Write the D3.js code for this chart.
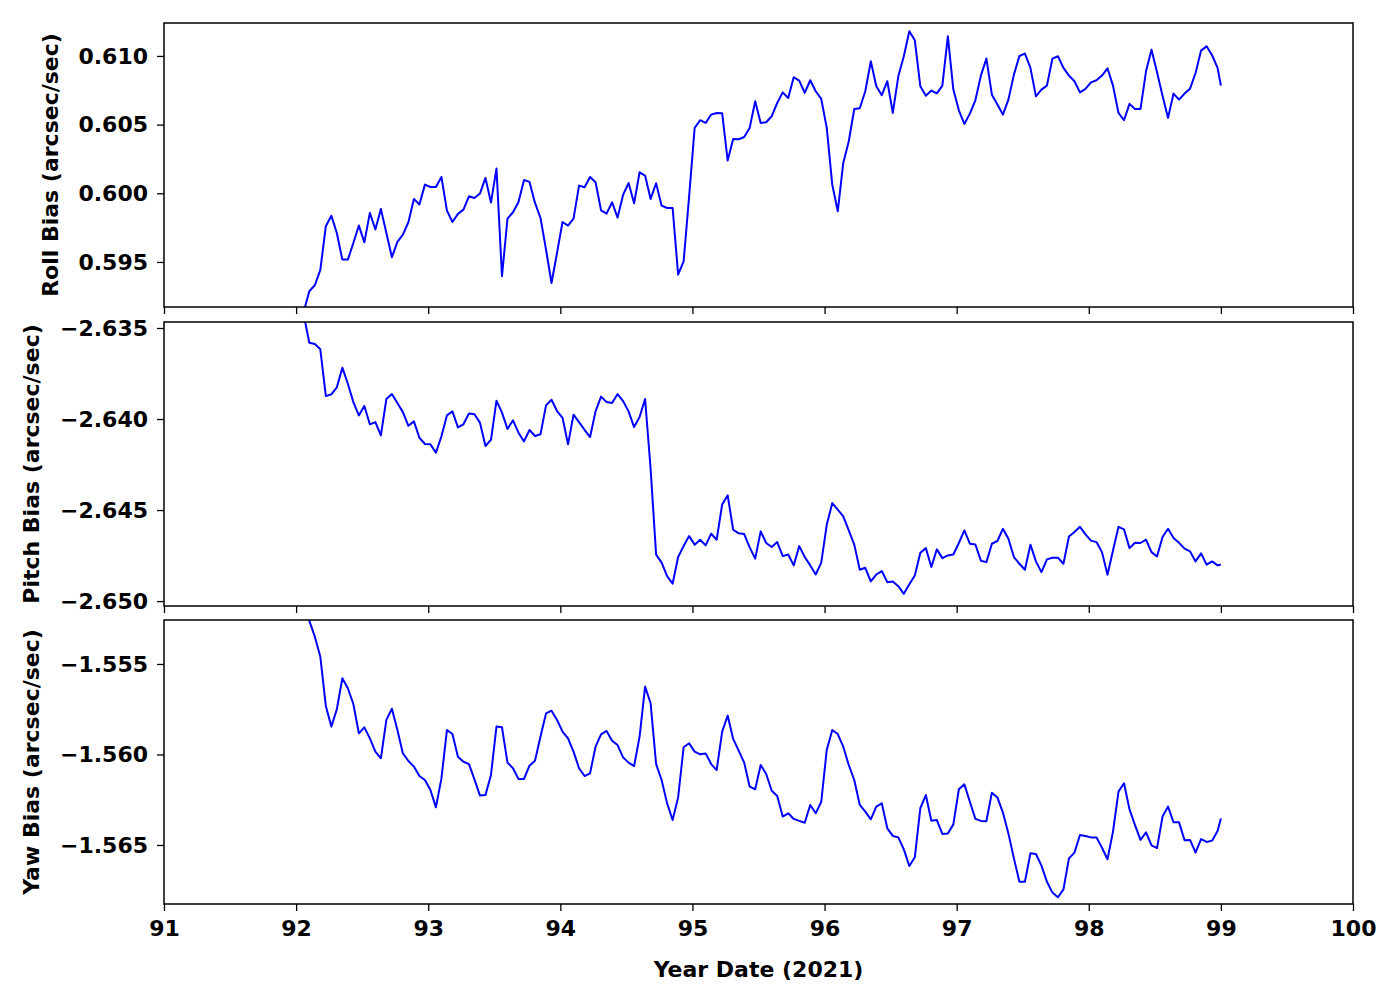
<!DOCTYPE html>
<html>
<head>
<meta charset="utf-8">
<script src="https://cdn.jsdelivr.net/npm/d3@7"></script>
<style>
  html, body { margin: 0; padding: 0; background: #ffffff; }
  svg text { font-family: "DejaVu Sans", sans-serif; font-weight: bold; }
</style>
</head>
<body>
<svg id="chart" width="1400" height="1000"></svg>
<script>
// ---- data (hourly samples, Year Date 2021) ----
const dayStart = 92.0583;      // first sample
const dayStep = 1 / 24;        // hourly sampling
const dayEnd = 99.0;           // last sample

const rollBias = [
0.5914,
0.59287,0.59330,0.59442,0.59760,0.59837,0.59711,0.59517,0.59517,0.59638,0.59765,
0.59643,0.59857,0.59736,0.59886,0.59711,0.59534,0.59646,0.59699,0.59789,0.59959,
0.59918,0.60063,0.60046,0.60046,0.60119,0.59874,0.59791,0.59850,0.59881,0.59978,
0.59966,0.59998,0.60112,0.59932,0.60180,0.59396,0.59816,0.59862,0.59937,0.60097,
0.60083,0.59930,0.59820,0.59590,0.59347,0.59566,0.59791,0.59765,0.59816,0.60056,
0.60044,0.60119,0.60080,0.59876,0.59852,0.59935,0.59823,0.59988,0.60075,0.59927,
0.60153,0.60129,0.59959,0.60073,0.59910,0.59893,0.59893,0.59408,0.59505,0.59978,
0.60476,0.60532,0.60512,0.60573,0.60585,0.60583,0.60238,0.60396,0.60393,0.60410,
0.60476,0.60670,0.60512,0.60517,0.60561,0.60658,0.60735,0.60694,0.60845,0.60820,
0.60731,0.60823,0.60743,0.60687,0.60476,0.60063,0.59869,0.60221,0.60379,0.60614,
0.60619,0.60743,0.60961,0.60779,0.60714,0.60816,0.60585,0.60852,0.60998,0.61180,
0.61114,0.60779,0.60711,0.60748,0.60728,0.60784,0.61143,0.60755,0.60604,0.60505,
0.60580,0.60677,0.60857,0.60981,0.60718,0.60646,0.60573,0.60682,0.60864,0.61000,
0.61017,0.60913,0.60706,0.60755,0.60784,0.60981,0.60998,0.60913,0.60857,0.60816,
0.60735,0.60760,0.60808,0.60823,0.60857,0.60910,0.60784,0.60585,0.60532,0.60651,
0.60614,0.60614,0.60888,0.61046,0.60881,0.60711,0.60549,0.60726,0.60682,0.60726,
0.60762,0.60876,0.61039,0.61070,0.61005,0.60913,
0.60784
];

const pitchBias = [
-2.6343,
-2.63581,-2.63588,-2.63617,-2.63874,-2.63864,-2.63826,-2.63718,-2.63806,-2.63907,-2.63980,
-2.63929,-2.64029,-2.64017,-2.64090,-2.63890,-2.63863,-2.63912,-2.63962,-2.64037,-2.64013,
-2.64103,-2.64137,-2.64139,-2.64185,-2.64095,-2.63980,-2.63958,-2.64046,-2.64029,-2.63969,
-2.63974,-2.64020,-2.64148,-2.64114,-2.63899,-2.63965,-2.64055,-2.64007,-2.64075,-2.64123,
-2.64060,-2.64093,-2.64084,-2.63925,-2.63894,-2.63956,-2.63993,-2.64139,-2.63976,-2.64017,
-2.64059,-2.64099,-2.63958,-2.63877,-2.63907,-2.63912,-2.63863,-2.63901,-2.63958,-2.64044,
-2.63989,-2.63890,-2.64273,-2.64745,-2.64789,-2.64863,-2.64905,-2.64758,-2.64698,-2.64643,
-2.64690,-2.64663,-2.64694,-2.64630,-2.64663,-2.64469,-2.64419,-2.64608,-2.64628,-2.64632,
-2.64705,-2.64767,-2.64617,-2.64681,-2.64703,-2.64676,-2.64753,-2.64744,-2.64804,-2.64698,
-2.64758,-2.64804,-2.64854,-2.64789,-2.64581,-2.64462,-2.64498,-2.64535,-2.64612,-2.64690,
-2.64828,-2.64817,-2.64892,-2.64854,-2.64835,-2.64896,-2.64892,-2.64918,-2.64960,-2.64908,
-2.64859,-2.64734,-2.64709,-2.64813,-2.64716,-2.64764,-2.64749,-2.64744,-2.64681,-2.64612,
-2.64685,-2.64689,-2.64778,-2.64786,-2.64685,-2.64670,-2.64603,-2.64658,-2.64758,-2.64795,
-2.64828,-2.64690,-2.64782,-2.64841,-2.64771,-2.64762,-2.64762,-2.64795,-2.64645,-2.64621,
-2.64592,-2.64634,-2.64668,-2.64676,-2.64731,-2.64855,-2.64722,-2.64592,-2.64606,-2.64709,
-2.64680,-2.64681,-2.64663,-2.64731,-2.64755,-2.64648,-2.64603,-2.64654,-2.64680,-2.64712,
-2.64727,-2.64782,-2.64738,-2.64800,-2.64782,-2.64804,
-2.64799
];

const yawBias = [
-1.5515,
-1.55262,-1.55349,-1.55460,-1.55732,-1.55846,-1.55750,-1.55579,-1.55634,-1.55721,-1.55883,
-1.55850,-1.55911,-1.55984,-1.56021,-1.55809,-1.55747,-1.55865,-1.55994,-1.56036,-1.56067,
-1.56119,-1.56141,-1.56196,-1.56292,-1.56132,-1.55865,-1.55887,-1.56012,-1.56040,-1.56053,
-1.56137,-1.56227,-1.56224,-1.56113,-1.55846,-1.55850,-1.56045,-1.56076,-1.56135,-1.56135,
-1.56062,-1.56034,-1.55901,-1.55773,-1.55758,-1.55809,-1.55874,-1.55911,-1.55984,-1.56076,
-1.56119,-1.56104,-1.55957,-1.55889,-1.55870,-1.55924,-1.55948,-1.56016,-1.56045,-1.56064,
-1.55901,-1.55625,-1.55717,-1.56053,-1.56141,-1.56270,-1.56362,-1.56237,-1.55960,-1.55938,
-1.55984,-1.55999,-1.55994,-1.56053,-1.56086,-1.55874,-1.55785,-1.55914,-1.55979,-1.56045,
-1.56178,-1.56192,-1.56058,-1.56108,-1.56200,-1.56229,-1.56343,-1.56325,-1.56356,-1.56367,
-1.56377,-1.56279,-1.56325,-1.56261,-1.55975,-1.55865,-1.55887,-1.55957,-1.56058,-1.56141,
-1.56279,-1.56316,-1.56358,-1.56288,-1.56270,-1.56408,-1.56450,-1.56458,-1.56524,-1.56616,
-1.56568,-1.56297,-1.56224,-1.56366,-1.56362,-1.56439,-1.56436,-1.56386,-1.56192,-1.56165,
-1.56261,-1.56356,-1.56367,-1.56369,-1.56211,-1.56237,-1.56321,-1.56436,-1.56574,-1.56703,
-1.56703,-1.56546,-1.56550,-1.56614,-1.56703,-1.56763,-1.56789,-1.56745,-1.56574,-1.56542,
-1.56445,-1.56450,-1.56458,-1.56458,-1.56515,-1.56579,-1.56426,-1.56205,-1.56159,-1.56303,
-1.56390,-1.56472,-1.56430,-1.56502,-1.56517,-1.56343,-1.56288,-1.56375,-1.56375,-1.56474,
-1.56472,-1.56542,-1.56467,-1.56483,-1.56476,-1.56423,
-1.56353
];

const xTicks = [91, 92, 93, 94, 95, 96, 97, 98, 99, 100];
const rollTicks = [0.595, 0.600, 0.605, 0.610];
const pitchTicks = [-2.650, -2.645, -2.640, -2.635];
const yawTicks = [-1.565, -1.560, -1.555];
const xDomain = [91, 100];
const rollDomain = [0.59172, 0.61240];
const pitchDomain = [-2.65027, -2.63467];
const yawDomain = [-1.56826, -1.55257];
const panelLabels = ["Roll Bias (arcsec/sec)", "Pitch Bias (arcsec/sec)", "Yaw Bias (arcsec/sec)"];
const xLabel = "Year Date (2021)";

// ---- build times ----
const days = rollBias.map((_, i) => i === rollBias.length - 1 ? dayEnd : dayStart + i * dayStep);

// ---- layout ----
const svg = d3.select("#chart");
const left = 164, right = 1353;
const panels = [
  { top: 23,  bottom: 307, values: rollBias,  domain: rollDomain,  ticks: rollTicks,  label: panelLabels[0], labelX: 50 },
  { top: 322, bottom: 606, values: pitchBias, domain: pitchDomain, ticks: pitchTicks, label: panelLabels[1], labelX: 31 },
  { top: 620, bottom: 904, values: yawBias,   domain: yawDomain,   ticks: yawTicks,   label: panelLabels[2], labelX: 31 }
];
const fontSize = 22;
const x = d3.scaleLinear().domain(xDomain).range([left, right]);
const fmt = d3.format(".3f");

panels.forEach((p, pi) => {
  const y = d3.scaleLinear().domain(p.domain).range([p.bottom, p.top]);
  const g = svg.append("g");

  const clipId = "clip" + pi;
  svg.append("clipPath").attr("id", clipId)
    .append("rect").attr("x", left).attr("y", p.top)
    .attr("width", right - left).attr("height", p.bottom - p.top);

  const line = d3.line().x((d, i) => x(days[i])).y(d => y(d));
  g.append("path")
    .datum(p.values)
    .attr("clip-path", "url(#" + clipId + ")")
    .attr("fill", "none")
    .attr("stroke", "#0000ff")
    .attr("stroke-width", 2)
    .attr("stroke-linejoin", "round")
    .attr("d", line);

  // y axis
  const yAxis = d3.axisLeft(y).tickValues(p.ticks).tickFormat(fmt).tickSize(7).tickPadding(9);
  const ya = g.append("g").attr("transform", `translate(${left},0)`).call(yAxis);
  ya.select(".domain").remove();
  ya.selectAll(".tick line").attr("stroke", "#000").attr("stroke-width", 1.3);
  ya.selectAll(".tick text").attr("font-size", fontSize).attr("fill", "#000")
    .attr("font-family", "DejaVu Sans").attr("font-weight", "bold");

  // x axis (ticks on every panel, labels only on the bottom)
  const xAxis = d3.axisBottom(x).tickValues(xTicks).tickSize(7).tickPadding(9)
    .tickFormat(pi === 2 ? d3.format("d") : () => "");
  const xa = g.append("g").attr("transform", `translate(0,${p.bottom})`).call(xAxis);
  xa.select(".domain").remove();
  xa.selectAll(".tick line").attr("stroke", "#000").attr("stroke-width", 1.3);
  xa.selectAll(".tick text").attr("font-size", fontSize).attr("fill", "#000")
    .attr("font-family", "DejaVu Sans").attr("font-weight", "bold");

  // frame
  g.append("rect").attr("x", left).attr("y", p.top)
    .attr("width", right - left).attr("height", p.bottom - p.top)
    .attr("fill", "none").attr("stroke", "#000").attr("stroke-width", 1.5);

  // y label
  g.append("text")
    .attr("transform", `translate(${p.labelX},${(p.top + p.bottom) / 2}) rotate(-90)`)
    .attr("text-anchor", "middle")
    .attr("dominant-baseline", "central")
    .attr("font-size", fontSize)
    .attr("fill", "#000")
    .text(p.label);
});

svg.append("text")
  .attr("x", (left + right) / 2)
  .attr("y", 969)
  .attr("text-anchor", "middle")
  .attr("dominant-baseline", "central")
  .attr("font-size", fontSize)
  .attr("fill", "#000")
  .text(xLabel);
</script>
</body>
</html>
